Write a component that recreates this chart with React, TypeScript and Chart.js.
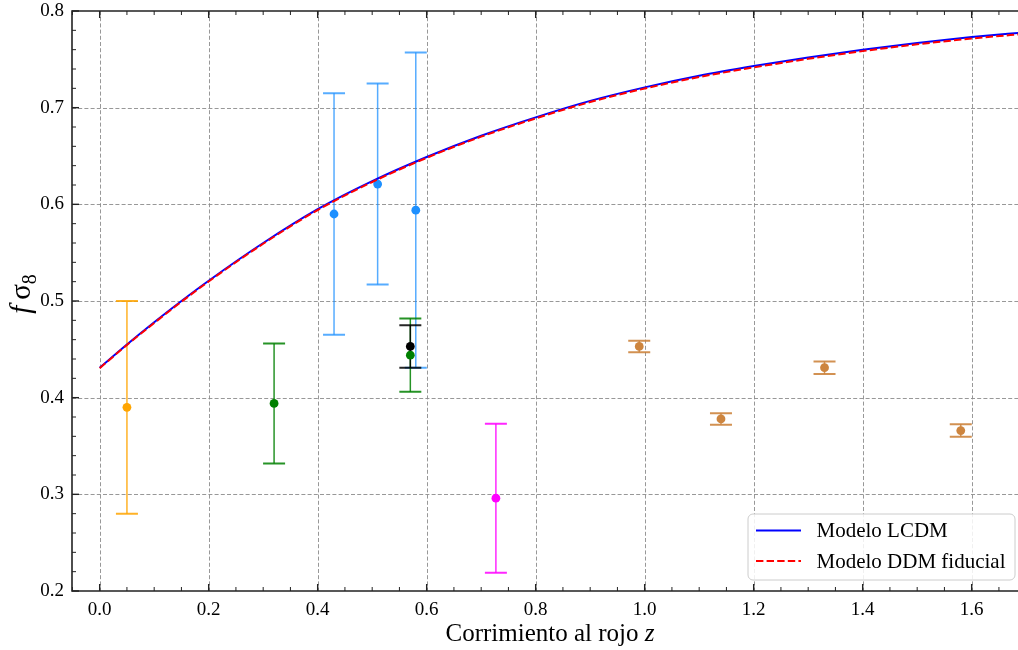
import React, { useEffect, useRef } from 'react';
import { Chart, registerables } from 'chart.js';

Chart.register(...registerables);

// ---- data ----
const curveZ = [0, 0.05, 0.1, 0.15, 0.2, 0.3, 0.4, 0.5, 0.6, 0.7, 0.8, 0.9, 1.0, 1.1, 1.2, 1.3, 1.4, 1.5, 1.6, 1.7];
const lcdmFs8 = [0.431, 0.455, 0.478, 0.5, 0.521, 0.56, 0.595, 0.624, 0.649, 0.671, 0.69, 0.707, 0.721, 0.733, 0.743, 0.752, 0.76, 0.767, 0.773, 0.778];
const ddmFs8 = [0.4305, 0.4545, 0.4772, 0.4992, 0.5202, 0.5592, 0.5941, 0.6231, 0.6481, 0.6700, 0.6889, 0.7058, 0.7198, 0.7317, 0.7416, 0.7505, 0.7585, 0.7655, 0.7715, 0.7765];

const obsZ = [0.05, 0.32, 0.43, 0.51, 0.58, 0.57, 0.57, 0.727, 0.99, 1.14, 1.33, 1.58];
const obsFs8 = [0.39, 0.394, 0.59, 0.621, 0.594, 0.444, 0.453, 0.296, 0.453, 0.378, 0.431, 0.366];
const obsErr = [0.11, 0.062, 0.125, 0.104, 0.163, 0.038, 0.022, 0.077, 0.006, 0.006, 0.0065, 0.0065];
const obsColors = ['#FFA500', '#008000', '#1E90FF', '#1E90FF', '#1E90FF', '#008000', '#000000', '#FF00FF', '#CD853F', '#CD853F', '#CD853F', '#CD853F'];
const barColors = ['rgba(255,165,0,0.85)', 'rgba(0,128,0,0.85)', 'rgba(30,144,255,0.75)', 'rgba(30,144,255,0.75)', 'rgba(30,144,255,0.75)', 'rgba(0,128,0,0.85)', 'rgba(0,0,0,0.85)', 'rgba(255,0,255,0.85)', 'rgba(205,133,63,0.9)', 'rgba(205,133,63,0.9)', 'rgba(205,133,63,0.9)', 'rgba(205,133,63,0.9)'];

const xTickValues = [0, 0.2, 0.4, 0.6, 0.8, 1.0, 1.2, 1.4, 1.6];
const yTickValues = [0.2, 0.3, 0.4, 0.5, 0.6, 0.7, 0.8];
const seriesLabels = ['Modelo LCDM', 'Modelo DDM fiducial'];
const xTitle = 'Corrimiento al rojo ';
const xTitleVar = 'z';

const FONT = "'Liberation Serif', 'Times New Roman', serif";
const AREA = { left: 72, top: 11, right: 1018, bottom: 591 };

const areaPlugin = {
  id: 'fixArea',
  afterLayout(chart: any) {
    const A = AREA;
    const ca = chart.chartArea;
    ca.left = A.left; ca.top = A.top; ca.right = A.right; ca.bottom = A.bottom;
    ca.width = A.right - A.left; ca.height = A.bottom - A.top;
    const x = chart.scales.x, y = chart.scales.y;
    x.left = A.left; x.right = A.right; x.width = A.right - A.left;
    x.top = A.bottom; x.bottom = chart.height; x.height = chart.height - A.bottom;
    y.left = 0; y.right = A.left; y.width = A.left;
    y.top = A.top; y.bottom = A.bottom; y.height = A.bottom - A.top;
    x.configure(); y.configure();
  },
};

const decorPlugin = {
  id: 'decor',
  beforeDatasetsDraw(chart: any) {
    const { ctx, chartArea: a, scales } = chart;
    const x = scales.x, y = scales.y;
    ctx.save();
    // grid
    ctx.strokeStyle = '#8c8c8c';
    ctx.lineWidth = 0.9;
    ctx.setLineDash([4, 2.2]);
    xTickValues.forEach((v) => {
      const px = Math.round(x.getPixelForValue(v)) + 0.5;
      if (px <= a.left + 1 || px >= a.right - 1) return;
      ctx.beginPath(); ctx.moveTo(px, a.top); ctx.lineTo(px, a.bottom); ctx.stroke();
    });
    yTickValues.forEach((v) => {
      const py = Math.round(y.getPixelForValue(v)) + 0.5;
      if (py <= a.top + 1 || py >= a.bottom - 1) return;
      ctx.beginPath(); ctx.moveTo(a.left, py); ctx.lineTo(a.right, py); ctx.stroke();
    });
    ctx.setLineDash([]);
    // error bars
    obsZ.forEach((z, i) => {
      const px = x.getPixelForValue(z);
      const top = y.getPixelForValue(obsFs8[i] + obsErr[i]);
      const bot = y.getPixelForValue(obsFs8[i] - obsErr[i]);
      ctx.strokeStyle = barColors[i];
      ctx.lineWidth = 1.5;
      ctx.beginPath(); ctx.moveTo(px, top); ctx.lineTo(px, bot); ctx.stroke();
      ctx.lineWidth = 2;
      ctx.beginPath();
      ctx.moveTo(px - 11, top); ctx.lineTo(px + 11, top);
      ctx.moveTo(px - 11, bot); ctx.lineTo(px + 11, bot);
      ctx.stroke();
    });
    ctx.restore();
  },
  afterDraw(chart: any) {
    const { ctx, chartArea: a, scales } = chart;
    const x = scales.x, y = scales.y;
    ctx.save();
    // frame
    ctx.strokeStyle = '#222';
    ctx.lineWidth = 1.6;
    ctx.beginPath();
    ctx.moveTo(a.right + 4, a.top); ctx.lineTo(a.left, a.top); ctx.lineTo(a.left, a.bottom); ctx.lineTo(a.right + 4, a.bottom);
    ctx.stroke();
    // ticks
    const tick = (px: number, len: number, lw: number) => {
      ctx.lineWidth = lw;
      ctx.beginPath();
      ctx.moveTo(px, a.bottom); ctx.lineTo(px, a.bottom - len);
      ctx.moveTo(px, a.top); ctx.lineTo(px, a.top + len);
      ctx.stroke();
    };
    for (let k = Math.ceil(x.min / 0.05); k <= Math.floor(x.max / 0.05); k++) {
      const px = x.getPixelForValue(k * 0.05);
      if (k % 4 === 0) tick(px, 7, 1.4); else tick(px, 4, 1);
    }
    for (let k = 10; k <= 40; k++) {
      const py = y.getPixelForValue(k * 0.02);
      const len = k % 5 === 0 ? 7 : 4;
      ctx.lineWidth = k % 5 === 0 ? 1.4 : 1;
      ctx.beginPath(); ctx.moveTo(a.left, py); ctx.lineTo(a.left + len, py); ctx.stroke();
    }
    // x title
    ctx.fillStyle = '#000';
    ctx.textBaseline = 'middle';
    ctx.font = `25px ${FONT}`;
    const w1 = ctx.measureText(xTitle).width;
    ctx.font = `italic 25px ${FONT}`;
    const w2 = ctx.measureText(xTitleVar).width;
    const cx = 550;
    const sx = cx - (w1 + w2) / 2;
    ctx.font = `25px ${FONT}`;
    ctx.textAlign = 'left';
    ctx.fillText(xTitle, sx, 634);
    ctx.font = `italic 25px ${FONT}`;
    ctx.fillText(xTitleVar, sx + w1, 634);
    // y title f sigma_8
    ctx.save();
    ctx.translate(21, 294);
    ctx.rotate(-Math.PI / 2);
    ctx.font = `italic 29px ${FONT}`;
    const fw = ctx.measureText('f').width;
    ctx.font = `29px ${FONT}`;
    const sw = ctx.measureText('σ').width;
    ctx.font = `20px ${FONT}`;
    const ew = ctx.measureText('8').width;
    const gap = 6;
    const total = fw + gap + sw + ew;
    let tx = -total / 2;
    ctx.textBaseline = 'alphabetic';
    ctx.font = `italic 29px ${FONT}`;
    ctx.fillText('f', tx, 9);
    tx += fw + gap;
    ctx.font = `29px ${FONT}`;
    ctx.fillText('σ', tx, 9);
    tx += sw;
    ctx.font = `20px ${FONT}`;
    ctx.fillText('8', tx, 15);
    ctx.restore();
    // legend
    const lx = 748, ly = 514, lw = 267, lh = 66, r = 5;
    ctx.fillStyle = 'rgba(255,255,255,0.85)';
    ctx.strokeStyle = '#cccccc';
    ctx.lineWidth = 1;
    ctx.beginPath();
    ctx.moveTo(lx + r, ly);
    ctx.arcTo(lx + lw, ly, lx + lw, ly + lh, r);
    ctx.arcTo(lx + lw, ly + lh, lx, ly + lh, r);
    ctx.arcTo(lx, ly + lh, lx, ly, r);
    ctx.arcTo(lx, ly, lx + lw, ly, r);
    ctx.closePath();
    ctx.fill();
    ctx.stroke();
    const rows = [530.5, 561];
    ctx.lineWidth = 2;
    ctx.strokeStyle = '#0000FF';
    ctx.beginPath(); ctx.moveTo(756, rows[0]); ctx.lineTo(801, rows[0]); ctx.stroke();
    ctx.strokeStyle = '#FF0000';
    ctx.setLineDash([7.4, 3.2]);
    ctx.beginPath(); ctx.moveTo(756, rows[1]); ctx.lineTo(801, rows[1]); ctx.stroke();
    ctx.setLineDash([]);
    ctx.fillStyle = '#000';
    ctx.font = `21px ${FONT}`;
    ctx.textAlign = 'left';
    ctx.textBaseline = 'middle';
    ctx.fillText(seriesLabels[0], 816.5, rows[0] + 1);
    ctx.fillText(seriesLabels[1], 816.5, rows[1] + 1);
    ctx.restore();
  },
};

export default function App() {
  const ref = useRef<HTMLCanvasElement | null>(null);
  useEffect(() => {
    document.body.style.margin = '0';
    const canvas = ref.current!;
    Chart.defaults.font.family = FONT;
    const chart = new Chart(canvas, {
      type: 'line',
      data: {
        datasets: [
          {
            type: 'line',
            label: seriesLabels[1],
            data: curveZ.map((z, i) => ({ x: z, y: ddmFs8[i] })),
            borderColor: '#FF0000',
            borderWidth: 2,
            borderDash: [7.4, 3.2],
            pointRadius: 0,
            cubicInterpolationMode: 'monotone',
            order: 0,
          } as any,
          {
            type: 'line',
            label: seriesLabels[0],
            data: curveZ.map((z, i) => ({ x: z, y: lcdmFs8[i] })),
            borderColor: '#0000FF',
            borderWidth: 2,
            pointRadius: 0,
            cubicInterpolationMode: 'monotone',
            order: 1,
          } as any,
          {
            type: 'scatter',
            label: 'obs',
            data: obsZ.map((z, i) => ({ x: z, y: obsFs8[i] })),
            pointRadius: 4.4,
            pointBorderWidth: 0,
            pointBackgroundColor: obsColors,
            pointBorderColor: obsColors,
            showLine: false,
            order: 2,
          } as any,
        ],
      },
      options: {
        responsive: false,
        animation: false,
        layout: { padding: { top: 11, left: 0, right: 0, bottom: 0 } },
        plugins: { legend: { display: false }, tooltip: { enabled: false } },
        scales: {
          x: {
            type: 'linear',
            min: -0.0508,
            max: 1.685,
            grid: { display: false, drawTicks: false },
            border: { display: false },
            afterBuildTicks: (s: any) => { s.ticks = xTickValues.map((value) => ({ value })); },
            afterFit: (s: any) => { s.height = 59; },
            ticks: {
              padding: 8,
              color: '#000',
              font: { size: 19, family: FONT },
              maxRotation: 0,
              autoSkip: false,
              callback: (v: any) => Number(v).toFixed(1),
            },
          },
          y: {
            type: 'linear',
            min: 0.2,
            max: 0.8,
            grid: { display: false, drawTicks: false },
            border: { display: false },
            afterBuildTicks: (s: any) => { s.ticks = yTickValues.map((value) => ({ value })); },
            afterFit: (s: any) => { s.width = 72; },
            ticks: {
              padding: 8,
              color: '#000',
              font: { size: 19, family: FONT },
              autoSkip: false,
              callback: (v: any) => Number(v).toFixed(1),
            },
          },
        },
      } as any,
      plugins: [areaPlugin, decorPlugin],
    });
    return () => chart.destroy();
  }, []);
  return (
    <div style={{ width: 1018, height: 650, overflow: 'hidden' }}>
      <canvas ref={ref} width={1018} height={650} style={{ display: 'block', width: 1018, height: 650 }} />
    </div>
  );
}
